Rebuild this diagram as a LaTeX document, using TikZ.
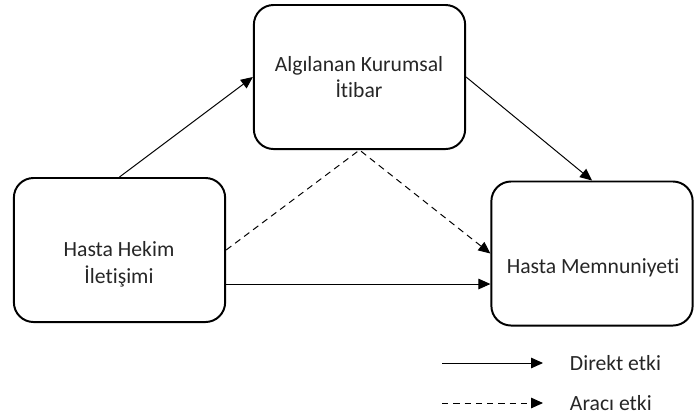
\documentclass[tikz,border=0pt]{standalone}
\usepackage{fontspec}
\setmainfont{Carlito}[Ligatures={NoCommon}]
\usetikzlibrary{arrows.meta}
\usetikzlibrary{positioning}

\tikzset{
  konstrukt/.style={draw, rounded corners=14pt, line width=1.4pt, minimum width=5.28cm, minimum height=3.6cm},
  etiket/.style={align=center, font=\fontsize{15.4}{19}\selectfont, text=black!85},
  etki/.style={line width=0.7pt, -{Triangle[length=8.5pt,width=7.5pt]}},
  araci/.style={etki, dash pattern=on 4.6pt off 3.4pt},
}

\begin{document}
\begin{tikzpicture}[x=0.025cm,y=-0.025cm]
                \useasboundingbox (0,0) rectangle (694,416);
                \node[konstrukt] (hhi) at (119.5,250) {};
                \node[konstrukt] (aki) at (359.5,77) {};
                \node[konstrukt, minimum width=5.03cm] (hm) at (592,253.5) {};
                \node[etiket] (hhi_t) at (119,264) {Hasta Hekim\\İletişimi};
                \node[etiket] (aki_t) at (359,77) {Algılanan Kurumsal\\İtibar};
                \node[etiket] (hm_t) at (593,268) {Hasta Memnuniyeti};
                \coordinate (duz) at ([yshift=-0.85cm]hhi.east);
                \draw[etki] (hhi.north) -- (aki.west);
                \draw[etki] (aki.east) -- (hm.north);
                \draw[etki] (duz) -- (duz -| hm.west);
                \draw[araci] (hhi.east) -- (aki.south) -- (hm.west);
                % lejant
                \coordinate (d_bas) at (442,363);
                \coordinate (d_son) at (543,363);
                \coordinate (a_bas) at (442,403);
                \coordinate (a_son) at (543,403);
                \draw[etki] (d_bas) -- (d_son);
                \draw[araci] (a_bas) -- (a_son);
                \node[etiket] (d_t) [right=0.55cm of d_son] {Direkt etki};
                \node[etiket] (a_t) [right=0.55cm of a_son] {Aracı etki};
\end{tikzpicture}
\end{document}
